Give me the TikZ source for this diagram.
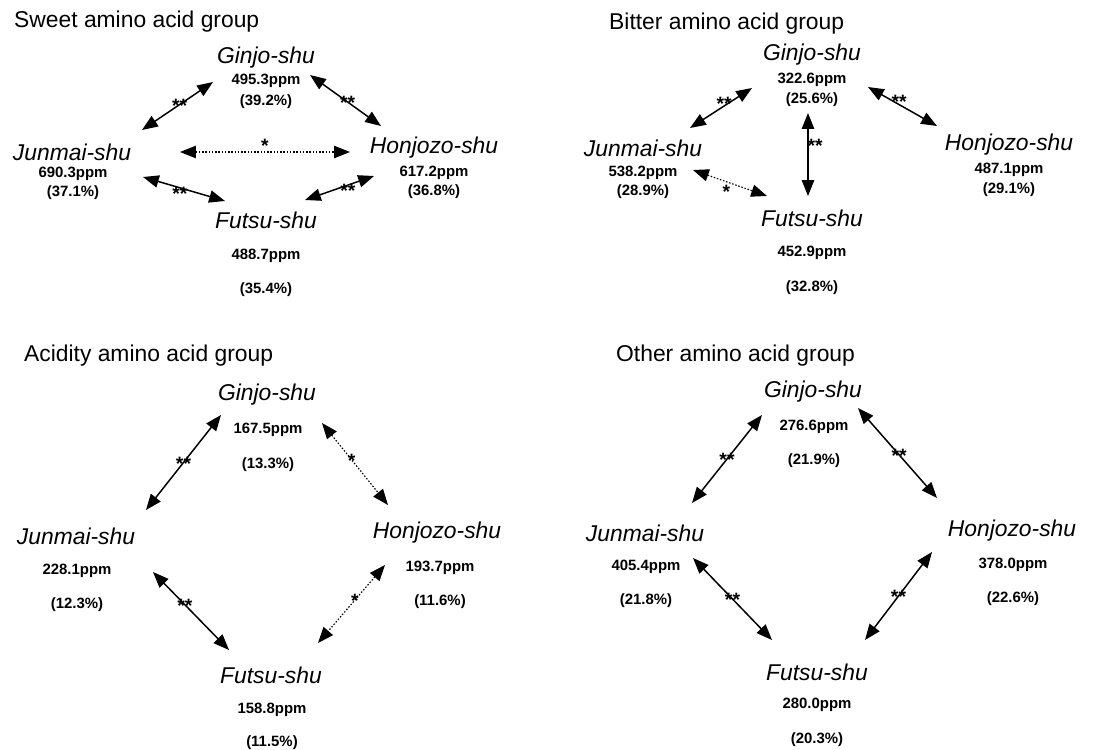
\documentclass[tikz,border=0pt]{standalone}
\usepackage{fontspec}
\setmainfont{Liberation Sans}
\usetikzlibrary{arrows.meta}
\begin{document}
\begin{tikzpicture}[x=0.02cm, y=-0.02cm,
    title/.style={anchor=west, font=\fontsize{13}{15}\selectfont},
    sake/.style={font=\fontsize{13}{15}\selectfont\itshape},
    conc/.style={font=\fontsize{8.5}{10}\selectfont\bfseries},
    link/.style={{Triangle[length=9pt,width=7pt]}-{Triangle[length=9pt,width=7pt]}, line width=0.85pt},
    weak/.style={link, densely dotted, line width=0.65pt},
    sig/.style={font=\fontsize{11}{11}\selectfont\bfseries, inner sep=0pt, yshift=-0.5pt}]
    \useasboundingbox (0,0) rectangle (1115,750);

    \node [title] (t1) at (8,22) {Sweet amino acid group};
    \node [sake] (gin1) at (266,58) {Ginjo-shu};
    \node [conc] (gppm1) at (266,81) {495.3ppm};
    \node [conc] (gpct1) at (266,102) {(39.2\%)};
    \node [sake] (jun1) at (72,152) {Junmai-shu};
    \node [conc] (jppm1) at (73,174) {690.3ppm};
    \node [conc] (jpct1) at (73,193) {(37.1\%)};
    \node [sake] (hon1) at (434,148) {Honjozo-shu};
    \node [conc] (hppm1) at (434,173) {617.2ppm};
    \node [conc] (hpct1) at (434,192) {(36.8\%)};
    \node [sake] (fut1) at (266,220) {Futsu-shu};
    \node [conc] (fppm1) at (266,256) {488.7ppm};
    \node [conc] (fpct1) at (266,290) {(35.4\%)};
    \draw [link] ([shift={(70,-22)}]jun1.center) -- node [sig, pos=.53] {**} ([shift={(-53,24)}]gin1.center);
    \draw [link] ([shift={(44,17)}]gin1.center) -- node [sig, pos=.53] {**} ([shift={(-53,-22)}]hon1.center);
    \draw [weak] ([shift={(108,0)}]jun1.center) -- node [sig, yshift=4pt] {*} ([shift={(-84,4)}]hon1.center);
    \draw [link] ([shift={(71,25)}]jun1.center) -- node [sig, pos=.45, yshift=-3pt] {**} ([shift={(-41,-19)}]fut1.center);
    \draw [link] ([shift={(39,-20)}]fut1.center) -- node [sig, pos=.62, yshift=-3pt] {**} ([shift={(-60,28)}]hon1.center);

    \node [title] (t2) at (603,24) {Bitter amino acid group};
    \node [sake] (gin2) at (812,55) {Ginjo-shu};
    \node [conc] (gppm2) at (812,80) {322.6ppm};
    \node [conc] (gpct2) at (812,100) {(25.6\%)};
    \node [sake] (jun2) at (643,148) {Junmai-shu};
    \node [conc] (jppm2) at (643,173) {538.2ppm};
    \node [conc] (jpct2) at (643,192) {(28.9\%)};
    \node [sake] (hon2) at (1009,145) {Honjozo-shu};
    \node [conc] (hppm2) at (1009,170) {487.1ppm};
    \node [conc] (hpct2) at (1009,190) {(29.1\%)};
    \node [sake] (fut2) at (812,218) {Futsu-shu};
    \node [conc] (fppm2) at (812,253) {452.9ppm};
    \node [conc] (fpct2) at (812,288) {(32.8\%)};
    \draw [link] ([shift={(47,-20)}]jun2.center) -- node [sig, pos=.55, yshift=2pt] {**} ([shift={(-60,33)}]gin2.center);
    \draw [link] ([shift={(56,32)}]gin2.center) -- node [sig, pos=.45, yshift=2pt] {**} ([shift={(-72,-19)}]hon2.center);
    \draw [link] ([shift={(-4,58)}]gin2.center) -- node [sig, pos=.38, xshift=4pt] {**} ([shift={(-4,-22)}]fut2.center);
    \draw [weak] ([shift={(50,22)}]jun2.center) -- node [sig, pos=.45, yshift=-5pt] {*} ([shift={(-45,-22)}]fut2.center);

    \node [title] (t3) at (18,356) {Acidity amino acid group};
    \node [sake] (gin3) at (267,395) {Ginjo-shu};
    \node [conc] (gppm3) at (268,430) {167.5ppm};
    \node [conc] (gpct3) at (268,465) {(13.3\%)};
    \node [sake] (jun3) at (76,536) {Junmai-shu};
    \node [conc] (jppm3) at (77,571) {228.1ppm};
    \node [conc] (jpct3) at (77,605) {(12.3\%)};
    \node [sake] (hon3) at (437,533) {Honjozo-shu};
    \node [conc] (hppm3) at (440,568) {193.7ppm};
    \node [conc] (hpct3) at (440,602) {(11.6\%)};
    \node [sake] (fut3) at (271,675) {Futsu-shu};
    \node [conc] (fppm3) at (272,710) {158.8ppm};
    \node [conc] (fpct3) at (272,743) {(11.5\%)};
    \draw [link] ([shift={(70,-26)}]jun3.center) -- node [sig] {**} ([shift={(-46,20)}]gin3.center);
    \draw [weak] ([shift={(55,28)}]gin3.center) -- node [sig, pos=.45] {*} ([shift={(-49,-28)}]hon3.center);
    \draw [link] ([shift={(77,36)}]jun3.center) -- node [sig, pos=.42] {**} ([shift={(-42,-25)}]fut3.center);
    \draw [weak] ([shift={(-52,32)}]hon3.center) -- node [sig, pos=.45] {*} ([shift={(47,-32)}]fut3.center);

    \node [title] (t4) at (610,356) {Other amino acid group};
    \node [sake] (gin4) at (813,392) {Ginjo-shu};
    \node [conc] (gppm4) at (814,427) {276.6ppm};
    \node [conc] (gpct4) at (814,461) {(21.9\%)};
    \node [sake] (jun4) at (645,533) {Junmai-shu};
    \node [conc] (jppm4) at (646,567) {405.4ppm};
    \node [conc] (jpct4) at (646,601) {(21.8\%)};
    \node [sake] (hon4) at (1012,531) {Honjozo-shu};
    \node [conc] (hppm4) at (1013,565) {378.0ppm};
    \node [conc] (hpct4) at (1013,599) {(22.6\%)};
    \node [sake] (fut4) at (817,672) {Futsu-shu};
    \node [conc] (fppm4) at (817,705) {280.0ppm};
    \node [conc] (fpct4) at (817,740) {(20.3\%)};
    \draw [link] ([shift={(47,-30)}]jun4.center) -- node [sig] {**} ([shift={(-51,23)}]gin4.center);
    \draw [link] ([shift={(45,16)}]gin4.center) -- node [sig, pos=.52] {**} ([shift={(-75,-33)}]hon4.center);
    \draw [link] ([shift={(48,25)}]jun4.center) -- node [sig] {**} ([shift={(-45,-32)}]fut4.center);
    \draw [link] ([shift={(-80,21)}]hon4.center) -- node [sig] {**} ([shift={(48,-32)}]fut4.center);
\end{tikzpicture}
\end{document}
